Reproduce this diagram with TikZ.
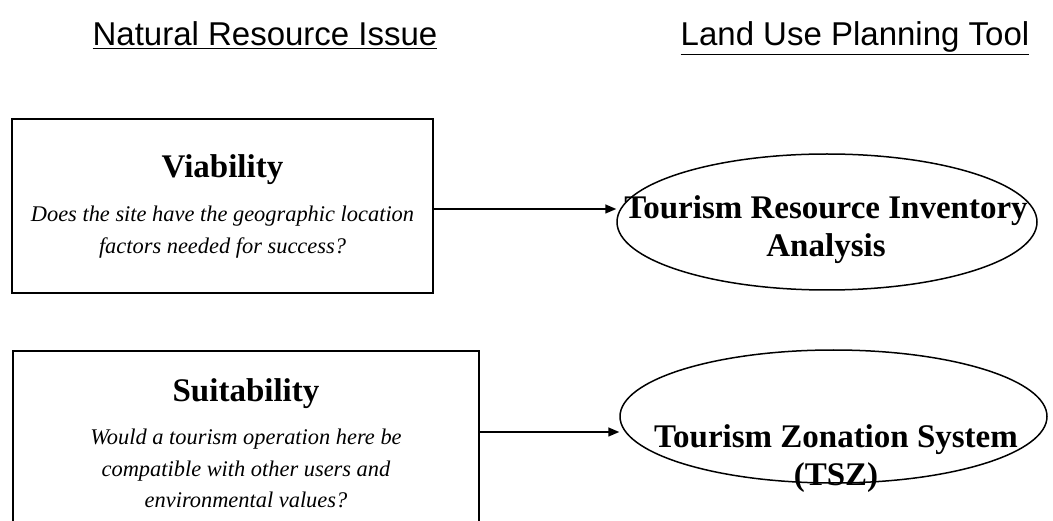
\documentclass[tikz,border=0pt]{standalone}
\usepackage{fontspec}
\setmainfont{Liberation Serif}
\setsansfont{Liberation Sans}
\usepackage{tikz}
\usetikzlibrary{positioning, arrows.meta, shapes.geometric}

\newcommand{\titlefont}{\upshape\bfseries\fontsize{33}{38}\selectfont}
\newcommand{\askfont}{\itshape\fontsize{22.4}{31.5}\selectfont}

\begin{document}
\begin{tikzpicture}[
            x=1pt, y=-1pt,
            heading/.style={font=\sffamily\fontsize{33}{40}\selectfont, inner sep=0pt, anchor=base},
            issue/.style={rectangle, draw, line width=1.5pt, align=center, inner sep=0pt, font=\askfont},
            tool/.style={ellipse, draw, line width=1.5pt, inner sep=0pt},
            toollabel/.style={align=center, font=\titlefont},
            arrow/.style={-{Triangle[length=11pt,width=9pt]}, line width=1.5pt}
        ]
        \clip (0,0) rectangle (1053,521);
        \fill[white] (0,0) rectangle (1053,521);

        % Column headings
        \node[heading] (issuehead) at (265,46) {\underline{Natural Resource Issue}};
        \node[heading] (toolhead) at (855,46) {\underline{Land Use Planning Tool}};

        % Natural resource issues
        \node[issue, minimum width=421pt, minimum height=174pt] (viability) at (222.5,206)
            {{\titlefont Viability}\\[13pt]
             Does the site have the geographic location\\
             factors needed for success?};
        \node[issue, minimum width=466pt, minimum height=184pt] (suitability) at (246,443)
            {{\titlefont Suitability}\\[12pt]
             Would a tourism operation here be\\
             compatible with other users and\\
             environmental values?};

        % Planning tools
        \node[tool, minimum width=420pt, minimum height=136pt] (inventory) at (827,222) {};
        \node[toollabel] (inventorytext) at (826,230) {Tourism Resource Inventory\\ Analysis};
        \node[tool, minimum width=427pt, minimum height=133pt] (zonation) at (833.5,416.5) {};
        \node[toollabel] (zonationtext) at (836,459) {Tourism Zonation System\\ (TSZ)};

        % Arrows from issue to tool
        \coordinate (from1) at ([yshift=-3pt]viability.east);
        \coordinate (from2) at ([yshift=11pt]suitability.east);
        \draw[arrow] (from1) -- (from1 -| inventory.west);
        \draw[arrow] (from2) -- (from2 -| zonation.west);
    \end{tikzpicture}
\end{document}
